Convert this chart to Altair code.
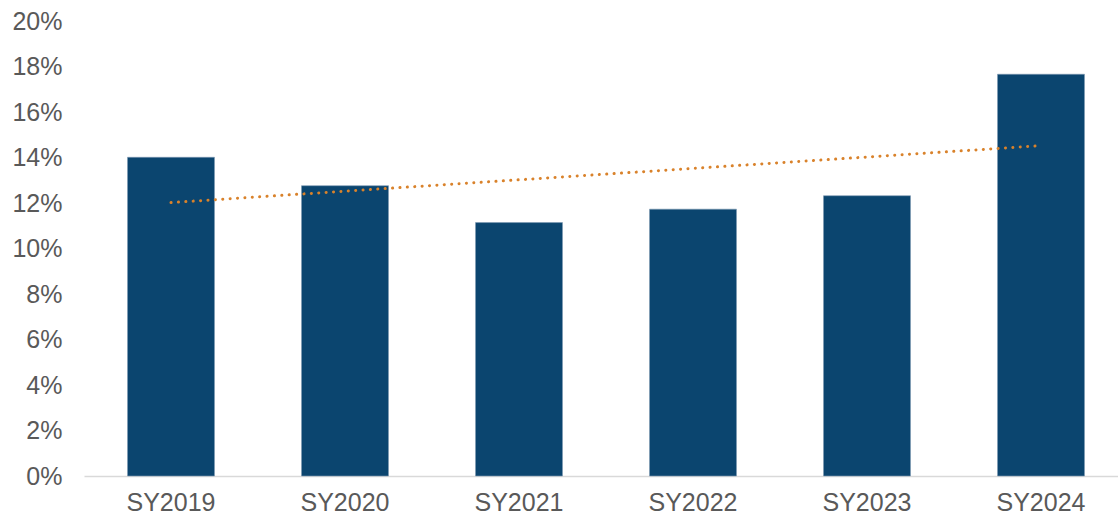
import altair as alt
import pandas as pd

categories = ["SY2019", "SY2020", "SY2021", "SY2022", "SY2023", "SY2024"]
values = [0.1401, 0.1276, 0.1114, 0.1173, 0.1232, 0.1766]
index = [0, 1, 2, 3, 4, 5]
y_ticks = [0, 0.02, 0.04, 0.06, 0.08, 0.10, 0.12, 0.14, 0.16, 0.18, 0.20]

df = pd.DataFrame({"cat": categories, "value": values, "idx": index})

FONT = "Liberation Sans"
LABEL = "#595959"
XRANGE = [0, 1044]

bars = alt.Chart(df).mark_bar(color="#0B456F", stroke="#7f9bb3", strokeWidth=0.6).encode(
    x=alt.X("cat:N", sort=categories, title=None,
            scale=alt.Scale(paddingInner=0.5, paddingOuter=0.25, range=XRANGE),
            axis=alt.Axis(labelAngle=0, labelFont=FONT, labelFontSize=25, labelColor=LABEL,
                          labelPadding=14, ticks=False, domain=True, domainColor="#d9d9d9",
                          domainWidth=1.5, grid=False)),
    y=alt.Y("value:Q", title=None,
            scale=alt.Scale(domain=[0, 0.2], nice=False),
            axis=alt.Axis(values=y_ticks, format=".0%", labelFont=FONT, labelFontSize=25,
                          labelColor=LABEL, labelPadding=22, ticks=False, domain=False, grid=False)),
)

trend = alt.Chart(df).transform_regression("idx", "value").mark_line(
    color="#D9822B", strokeWidth=3, strokeDash=[0.1, 7.3], strokeCap="round"
).encode(
    x=alt.X("idx:Q", scale=alt.Scale(domain=[-0.5, 5.5], nice=False, zero=False, range=XRANGE), axis=None),
    y=alt.Y("value:Q", scale=alt.Scale(domain=[0, 0.2], nice=False)),
)

chart = alt.layer(bars, trend).resolve_scale(x="independent").properties(
    width=1034, height=455,
    background="white",
    autosize=alt.AutoSizeParams(type="none"),
    padding={"left": 84, "top": 21, "right": 0, "bottom": 42},
).configure_view(strokeWidth=0, stroke=None)

chart.save("out.html", embed_options={"renderer": "svg", "actions": False})
